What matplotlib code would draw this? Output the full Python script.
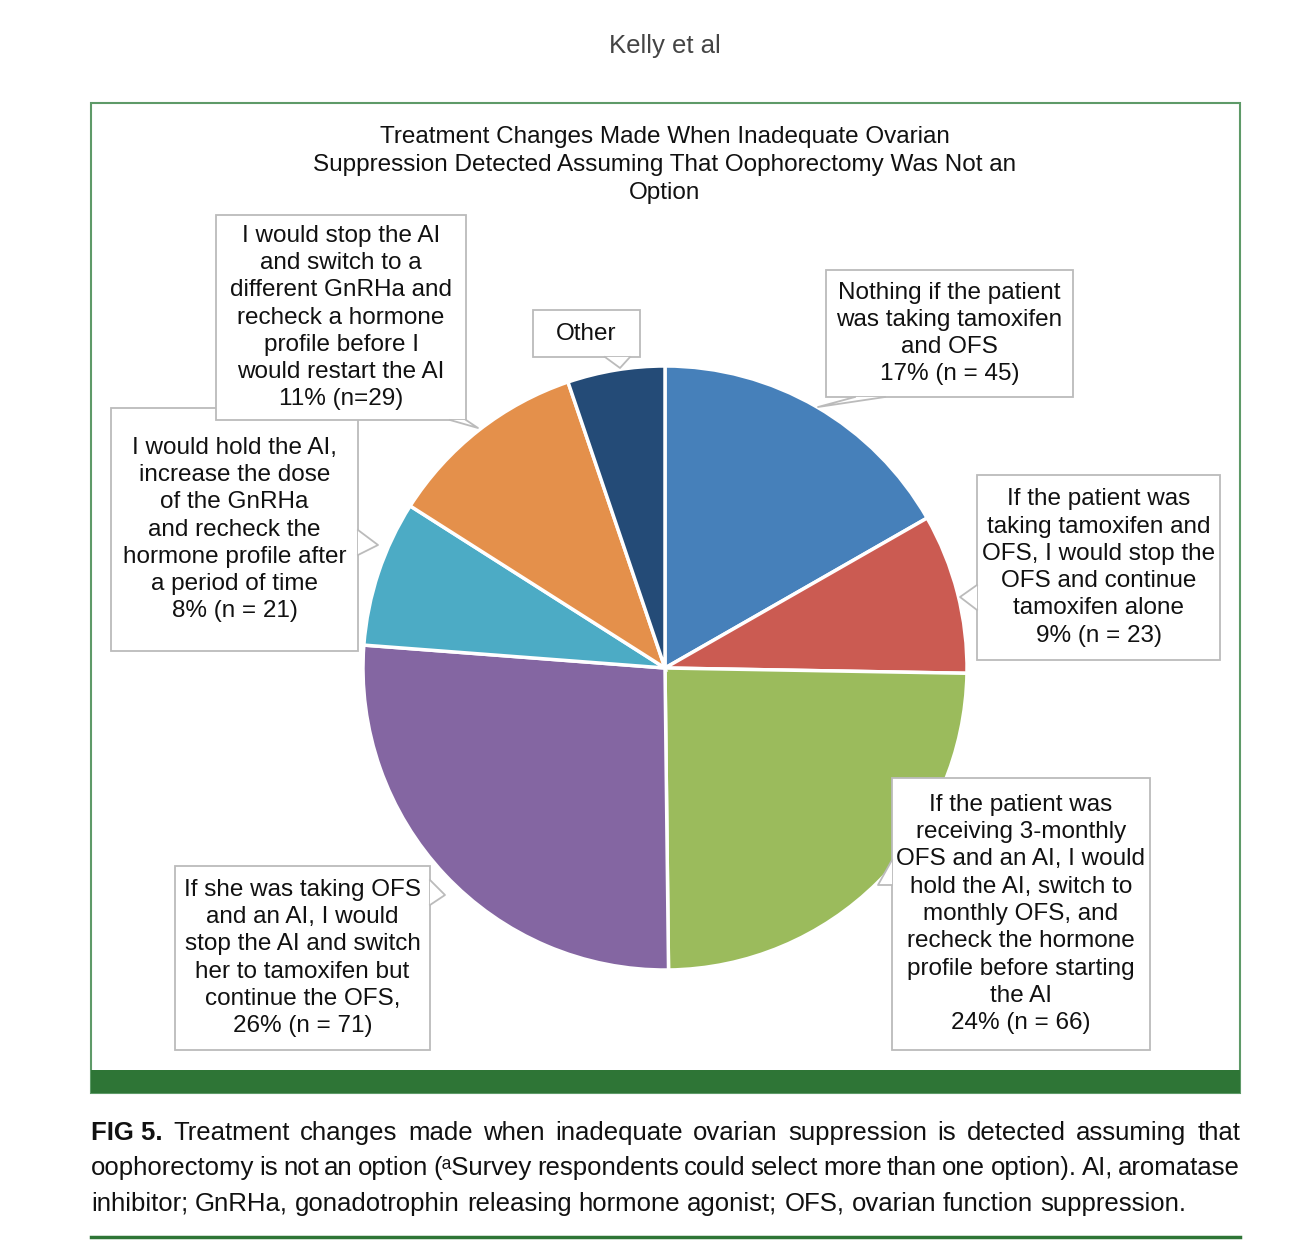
import matplotlib
matplotlib.use("Agg")
import matplotlib.pyplot as plt
from matplotlib.patches import Rectangle, Polygon

# slices, clockwise from 12 o'clock
labels = [
    "Nothing if the patient\nwas taking tamoxifen\nand OFS",
    "If the patient was\ntaking tamoxifen and\nOFS, I would stop the\nOFS and continue\ntamoxifen alone",
    "If the patient was\nreceiving 3-monthly\nOFS and an AI, I would\nhold the AI, switch to\nmonthly OFS, and\nrecheck the hormone\nprofile before starting\nthe AI",
    "If she was taking OFS\nand an AI, I would\nstop the AI and switch\nher to tamoxifen but\ncontinue the OFS,",
    "I would hold the AI,\nincrease the dose\nof the GnRHa\nand recheck the\nhormone profile after\na period of time",
    "I would stop the AI\nand switch to a\ndifferent GnRHa and\nrecheck a hormone\nprofile before I\nwould restart the AI",
    "Other",
]
counts = [45, 23, 66, 71, 21, 29, 14]
pct_text = ["17% (n = 45)", "9% (n = 23)", "24% (n = 66)", "26% (n = 71)",
            "8% (n = 21)", "11% (n=29)", ""]
colors = ["#4680BA", "#CB5B52", "#9BBB5C", "#8466A2", "#4CABC5", "#E4904B", "#244B77"]

title = "Treatment Changes Made When Inadequate Ovarian\nSuppression Detected Assuming That Oophorectomy Was Not an\nOption"
caption_lines = [
    [("FIG 5.", True), ("Treatment", False), ("changes", False), ("made", False), ("when", False),
     ("inadequate", False), ("ovarian", False), ("suppression", False), ("is", False),
     ("detected", False), ("assuming", False), ("that", False)],
    [("oophorectomy", False), ("is", False), ("not", False), ("an", False), ("option", False),
     ("(\u1d43Survey", False), ("respondents", False), ("could", False), ("select", False),
     ("more", False), ("than", False), ("one", False), ("option).", False), ("AI,", False),
     ("aromatase", False)],
    [("inhibitor;", False), ("GnRHa,", False), ("gonadotrophin", False), ("releasing", False),
     ("hormone", False), ("agonist;", False), ("OFS,", False), ("ovarian", False),
     ("function", False), ("suppression.", False)],
]

# callout layout in pixels: box (x0, y0, x1, y1), pointer base and tip
boxes = [
    (826, 270, 1073, 397), (977, 475, 1220, 660), (892, 778, 1150, 1050),
    (175, 866, 430, 1050), (111, 408, 358, 651), (216, 215, 466, 420), (533, 310, 640, 357),
]
pointers = [
    ((855, 397), (885, 397), (818, 407)),
    ((977, 585), (977, 610), (960, 597)),
    ((892, 860), (892, 885), (878, 885)),
    ((430, 880), (430, 905), (445, 895)),
    ((358, 530), (358, 555), (378, 545)),
    ((450, 420), (466, 420), (478, 428)),
    ((605, 357), (630, 357), (620, 368)),
]

green = "#2E7536"
font = ["Liberation Sans", "DejaVu Sans"]
narrow = ["Liberation Sans Narrow", "Liberation Sans", "DejaVu Sans"]

fig = plt.figure(figsize=(12.9, 12.5), dpi=100)
ax = fig.add_axes([0, 0, 1, 1])

# pie, y axis inverted so angles run clockwise on screen
ax.pie(counts, colors=colors, startangle=-90, counterclock=True,
       center=(665, 668), radius=302, frame=True,
       wedgeprops=dict(edgecolor="white", linewidth=2.5))
ax.set_xlim(0, 1290)
ax.set_ylim(1250, 0)
ax.axis("off")

# frame and green band
ax.add_patch(Rectangle((91, 103), 1149, 990, fill=False, edgecolor="#5E9A68", lw=1.5, zorder=0))
ax.add_patch(Rectangle((91, 1070), 1149, 23, color=green, lw=0, zorder=1))
ax.plot([91, 1240], [1237, 1237], color=green, lw=2.5)

ax.text(665, 46, "Kelly et al", ha="center", va="center", fontsize=18.5,
        color="#444444", family=font)
ax.text(665, 165, title, ha="center", va="center", fontsize=17.5,
        linespacing=1.34, family=font, color="#111111")

for lab, pct, (x0, y0, x1, y1), (b1, b2, tip) in zip(labels, pct_text, boxes, pointers):
    ax.add_patch(Rectangle((x0, y0), x1 - x0, y1 - y0, facecolor="white",
                           edgecolor="#BBBBBB", lw=1.3, zorder=4))
    ax.add_patch(Polygon([b1, b2, tip], closed=True, facecolor="white",
                         edgecolor="none", zorder=5))
    ax.plot([b1[0], tip[0], b2[0]], [b1[1], tip[1], b2[1]], color="#BBBBBB",
            lw=1.3, zorder=5)
    txt = lab + ("\n" + pct if pct else "")
    ax.text((x0 + x1) / 2, (y0 + y1) / 2, txt, ha="center", va="center",
            fontsize=17.5, linespacing=1.31, family=font, color="#111111", zorder=6)

# justified caption
renderer = fig.canvas.get_renderer()
line_y = [1133, 1168, 1204]
for i, (words, y) in enumerate(zip(caption_lines, line_y)):
    arts = []
    for w, bold in words:
        t = ax.text(0, y, w, ha="left", va="center", fontsize=18.5,
                    fontweight="bold" if bold else "normal", family=narrow, color="#111111")
        arts.append(t)
    widths = [t.get_window_extent(renderer).width for t in arts]
    if i < len(caption_lines) - 1:
        gap = (1240 - 91 - sum(widths)) / (len(words) - 1)
    else:
        gap = 7
    x = 91
    for t, w in zip(arts, widths):
        t.set_x(x)
        x += w + gap

fig.savefig("out.png", dpi=100)
